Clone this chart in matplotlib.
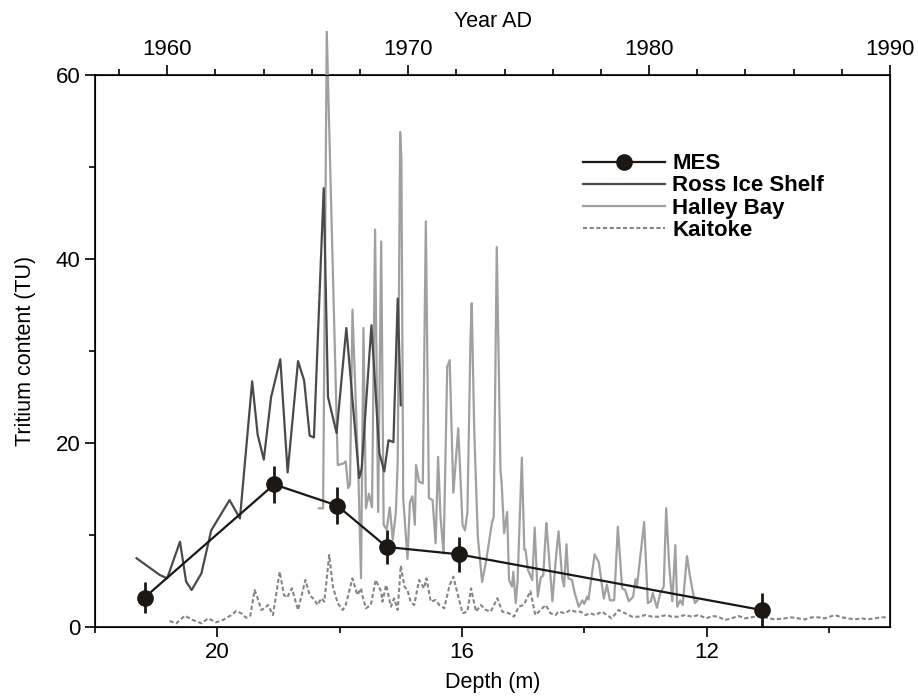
import matplotlib
matplotlib.use("Agg")
import matplotlib.pyplot as plt
from matplotlib.ticker import MultipleLocator

plt.rcParams['font.family'] = ['Liberation Sans', 'DejaVu Sans']

# MES ice core samples (depth m, tritium TU, error)
mes_depth = [21.19, 19.07, 18.04, 17.23, 16.05, 11.10]
mes_tu = [3.2, 15.5, 13.2, 8.7, 7.9, 1.85]
mes_err = [1.7, 2.0, 2.0, 1.8, 1.9, 1.8]

ross_depth = [21.32, 20.94, 20.82, 20.61, 20.51, 20.42, 20.26, 20.10, 19.80, 19.63,
              19.43, 19.34, 19.24, 19.12, 18.97, 18.85, 18.68, 18.58, 18.49, 18.42,
              18.26, 18.19, 18.05, 17.89, 17.68, 17.64, 17.48, 17.35, 17.27, 17.20,
              17.12, 17.05, 17.00]
ross_tu = [7.47, 5.65, 5.29, 9.27, 4.93, 4.02, 5.83, 10.5, 13.8, 11.8,
           26.7, 20.9, 18.2, 25.0, 29.1, 16.8, 28.9, 26.8, 20.8, 20.6,
           47.7, 25.0, 21.1, 32.5, 16.2, 17.2, 32.8, 18.9, 16.9, 20.3,
           20.1, 35.7, 24.1]

halley_depth = [18.34, 18.27, 18.21, 18.03, 17.93, 17.90, 17.86, 17.83, 17.79, 17.69,
                17.65, 17.61, 17.57, 17.52, 17.47, 17.42, 17.37, 17.32, 17.28, 17.23,
                17.18, 17.13, 17.08, 17.05, 17.01, 16.99, 16.96, 16.89, 16.85, 16.81,
                16.77, 16.75, 16.70, 16.64, 16.59, 16.54, 16.48, 16.43, 16.39, 16.35,
                16.30, 16.24, 16.20, 16.14, 16.06, 15.99, 15.95, 15.91, 15.86, 15.84,
                15.80, 15.79, 15.74, 15.67, 15.61, 15.56, 15.51, 15.48, 15.43, 15.37,
                15.35, 15.31, 15.26, 15.23, 15.18, 15.16, 15.12, 15.09, 15.02, 14.98,
                14.96, 14.92, 14.85, 14.81, 14.76, 14.71, 14.67, 14.62, 14.60, 14.52,
                14.47, 14.42, 14.36, 14.33, 14.29, 14.26, 14.20, 14.16, 14.09, 14.03,
                14.00, 13.95, 13.93, 13.83, 13.76, 13.74, 13.68, 13.63, 13.58, 13.51,
                13.45, 13.38, 13.33, 13.27, 13.20, 13.16, 13.14, 13.02, 12.96, 12.91,
                12.88, 12.81, 12.76, 12.70, 12.66, 12.61, 12.56, 12.51, 12.48, 12.43,
                12.39, 12.32, 12.27, 12.21, 12.19, 12.15]
halley_tu = [12.9, 12.9, 64.7, 17.6, 17.8, 18.0, 15.1, 15.5, 34.5, 15.8,
             5.3, 32.5, 12.9, 14.5, 13.0, 43.2, 12.5, 41.9, 11.1, 10.6,
             13.0, 9.5, 12.5, 18.0, 53.8, 50.9, 14.0, 7.4, 13.6, 14.2,
             11.1, 17.6, 15.8, 15.6, 44.1, 14.0, 13.8, 9.1, 18.5, 12.0,
             8.0, 28.3, 29.0, 14.6, 21.6, 11.1, 10.5, 12.5, 31.2, 35.2,
             21.8, 19.6, 9.8, 4.9, 7.0, 9.1, 11.3, 12.0, 41.3, 17.1,
             15.6, 10.2, 12.5, 5.1, 4.4, 6.0, 2.6, 5.0, 18.4, 8.4,
             8.4, 6.2, 5.1, 10.8, 3.3, 5.4, 5.6, 11.3, 9.7, 2.8,
             7.0, 10.4, 5.3, 4.4, 9.0, 5.3, 5.1, 3.8, 2.2, 2.9,
             2.5, 3.3, 3.0, 7.9, 7.0, 6.0, 3.1, 4.6, 2.9, 2.9,
             10.9, 4.2, 4.0, 2.8, 3.3, 5.2, 4.3, 11.4, 2.6, 2.8,
             3.7, 2.1, 3.6, 4.4, 12.9, 6.6, 2.8, 8.9, 2.2, 2.9,
             2.4, 7.7, 5.5, 3.3, 2.6, 2.9]

kaitoke_depth = [20.78, 20.67, 20.53, 20.40, 20.26, 20.15, 20.02, 19.91, 19.77, 19.69,
                 19.61, 19.53, 19.46, 19.39, 19.34, 19.28, 19.23, 19.17, 19.09, 18.98,
                 18.91, 18.86, 18.78, 18.68, 18.56, 18.49, 18.41, 18.36, 18.30, 18.25,
                 18.17, 18.11, 18.03, 17.95, 17.90, 17.79, 17.71, 17.65, 17.63, 17.57,
                 17.49, 17.41, 17.32, 17.30, 17.24, 17.16, 17.11, 17.05, 17.00, 16.94,
                 16.89, 16.84, 16.78, 16.70, 16.62, 16.58, 16.51, 16.43, 16.37, 16.29,
                 16.20, 16.14, 16.08, 15.99, 15.91, 15.85, 15.77, 15.69, 15.61, 15.53,
                 15.42, 15.34, 15.23, 15.15, 15.07, 14.99, 14.91, 14.88, 14.80, 14.63,
                 14.55, 14.47, 14.42, 14.31, 14.23, 14.14, 14.06, 13.98, 13.90, 13.82,
                 13.71, 13.63, 13.55, 13.44, 13.33, 13.22, 13.11, 13.00, 12.89, 12.78,
                 12.65, 12.57, 12.46, 12.35, 12.24, 12.13, 12.00, 11.91, 11.81, 11.70,
                 11.59, 11.48, 11.37, 11.21, 11.10, 10.99, 10.88, 10.72, 10.61, 10.50,
                 10.39, 10.28, 10.17, 10.07, 9.90, 9.79, 9.69, 9.58, 9.47, 9.36,
                 9.25, 9.14, 9.03]
kaitoke_tu = [0.65, 0.40, 1.23, 0.76, 0.40, 0.94, 0.51, 0.76, 1.30, 1.74,
              1.49, 1.01, 1.23, 4.02, 3.12, 1.85, 2.03, 2.39, 1.30, 6.01,
              3.48, 3.19, 4.20, 1.85, 5.11, 3.48, 2.93, 2.39, 3.12, 2.75,
              7.83, 4.38, 2.57, 1.85, 2.39, 5.29, 3.48, 4.20, 3.48, 2.03,
              2.39, 5.11, 3.84, 2.75, 4.57, 2.21, 3.12, 1.85, 6.67, 4.38,
              4.02, 2.75, 2.39, 5.11, 4.20, 5.29, 2.75, 2.93, 2.39, 2.03,
              4.57, 5.47, 3.84, 1.49, 1.67, 4.20, 1.67, 2.39, 1.85, 1.67,
              3.12, 1.67, 1.49, 1.12, 2.21, 2.39, 3.48, 3.90, 1.30, 2.39,
              1.49, 1.30, 1.67, 1.49, 1.85, 1.67, 1.67, 1.30, 1.49, 1.30,
              1.67, 1.30, 0.94, 1.85, 1.49, 1.12, 1.12, 1.30, 1.12, 1.12,
              1.30, 1.12, 1.12, 1.30, 1.12, 1.30, 0.94, 1.20, 1.12, 0.76,
              0.94, 1.20, 0.94, 1.12, 1.20, 0.94, 0.83, 0.94, 1.05, 0.94,
              0.83, 1.05, 1.05, 0.94, 1.30, 1.05, 0.94, 0.83, 0.94, 0.83,
              0.94, 1.05, 1.05]

year_ticks = [1960, 1970, 1980, 1990]

fig = plt.figure(figsize=(9.18, 6.96), dpi=100)
ax = fig.add_axes([95 / 918, 1 - 627 / 696, 795 / 918, 552 / 696])

ax.plot(kaitoke_depth, kaitoke_tu, color='#858585', lw=1.5, ls=(0, (2.0, 1.2)),
        label='Kaitoke', zorder=2)
ax.plot(halley_depth, halley_tu, color='#a0a0a0', lw=1.6, label='Halley Bay',
        zorder=3, clip_on=False)
ax.plot(ross_depth, ross_tu, color='#4a4a4a', lw=1.6, label='Ross Ice Shelf', zorder=4)
ax.errorbar(mes_depth, mes_tu, yerr=mes_err, fmt='none', ecolor='#1c1713',
            elinewidth=2.0, capsize=0, zorder=5)
ax.plot(mes_depth, mes_tu, color='#1c1713', lw=1.6, marker='o',
        markersize=11, label='MES', zorder=6)

ax.set_xlim(22, 9)
ax.set_ylim(0, 60)
ax.xaxis.set_major_locator(MultipleLocator(4))
ax.xaxis.set_minor_locator(MultipleLocator(2))
ax.yaxis.set_major_locator(MultipleLocator(20))
ax.yaxis.set_minor_locator(MultipleLocator(10))
ax.tick_params(which='major', length=7, width=1.2, labelsize=16, direction='out')
ax.tick_params(which='minor', length=4, width=1.2, direction='out')
ax.set_xlabel('Depth (m)', fontsize=15.5, labelpad=7)
ax.set_ylabel('Tritium content (TU)', fontsize=15.5, labelpad=14)
for s in ax.spines.values():
    s.set_linewidth(1.2)

top = ax.twiny()
top.set_xlim(1957, 1990)
top.set_xticks(year_ticks)
top.xaxis.set_minor_locator(MultipleLocator(2))
top.tick_params(which='major', length=7, width=1.2, labelsize=16, direction='out')
top.tick_params(which='minor', length=4, width=1.2, direction='out')
top.set_xlabel('Year AD', fontsize=15.5, labelpad=9)

handles, labels = ax.get_legend_handles_labels()
order = ['MES', 'Ross Ice Shelf', 'Halley Bay', 'Kaitoke']
hl = dict(zip(labels, handles))
ax.legend([hl[k] for k in order], order, loc='upper left',
          bbox_to_anchor=(0.614, 0.858), frameon=False,
          prop={'weight': 'bold', 'size': 16}, handlelength=3.7,
          handletextpad=0.3, labelspacing=0.05, borderpad=0, borderaxespad=0)

fig.savefig('out.png', dpi=100)
